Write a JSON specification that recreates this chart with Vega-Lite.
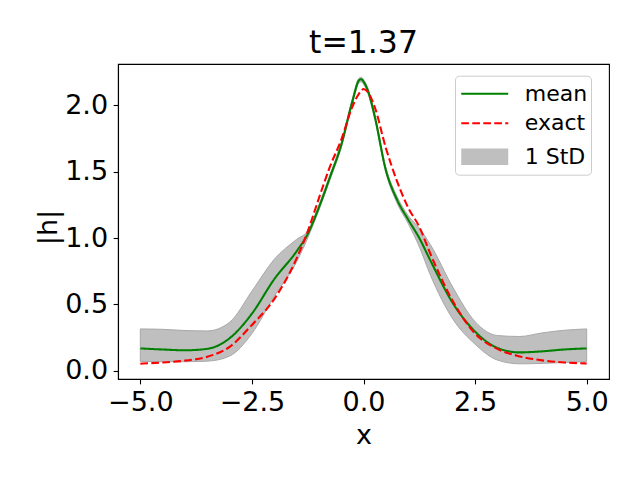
{
  "$schema": "https://vega.github.io/schema/vega-lite/v6.json",
  "width": 491,
  "height": 315,
  "autosize": {"type": "none"},
  "padding": {"left": 118, "top": 64, "right": 31, "bottom": 101},
  "background": "white",
  "title": {"text": "t=1.37", "fontSize": 31.5, "font": "DejaVu Sans", "fontWeight": "normal", "color": "black", "baseline": "alphabetic", "offset": 10.7, "dy": 31, "anchor": "middle", "frame": "group"},
  "config": {
    "view": {"stroke": "black", "strokeWidth": 1.1},
    "axis": {"domainColor": "black", "domainWidth": 1.1, "tickColor": "black", "tickSize": 4.9, "tickWidth": 1.1, "labelFont": "DejaVu Sans", "labelFontSize": 27, "labelColor": "black", "labelPadding": 5.5, "titleFont": "DejaVu Sans", "titleFontSize": 27, "titleFontWeight": "normal", "titleColor": "black", "grid": false, "labelOverlap": false, "labelFlush": false},
    "legend": {"labelFont": "DejaVu Sans", "labelFontSize": 22, "labelColor": "black"}
  },
  "data": {"values": [
    {"x": -5.0, "mean": 0.168, "lo": 0.070, "hi": 0.315, "exact": 0.053},
    {"x": -4.5, "mean": 0.160, "lo": 0.068, "hi": 0.312, "exact": 0.062},
    {"x": -4.0, "mean": 0.154, "lo": 0.068, "hi": 0.303, "exact": 0.076},
    {"x": -3.5, "mean": 0.165, "lo": 0.072, "hi": 0.300, "exact": 0.105},
    {"x": -3.0, "mean": 0.245, "lo": 0.110, "hi": 0.365, "exact": 0.180},
    {"x": -2.5, "mean": 0.430, "lo": 0.280, "hi": 0.600, "exact": 0.345},
    {"x": -2.0, "mean": 0.690, "lo": 0.560, "hi": 0.840, "exact": 0.540},
    {"x": -1.5, "mean": 0.900, "lo": 0.820, "hi": 0.990, "exact": 0.845},
    {"x": -1.25, "mean": 1.030, "lo": 1.000, "hi": 1.055, "exact": 1.050},
    {"x": -1.0, "mean": 1.230, "lo": 1.210, "hi": 1.250, "exact": 1.300},
    {"x": -0.75, "mean": 1.460, "lo": 1.440, "hi": 1.480, "exact": 1.540},
    {"x": -0.5, "mean": 1.700, "lo": 1.680, "hi": 1.720, "exact": 1.740},
    {"x": -0.25, "mean": 2.030, "lo": 2.010, "hi": 2.050, "exact": 1.990},
    {"x": -0.1, "mean": 2.190, "lo": 2.170, "hi": 2.205, "exact": 2.090},
    {"x": -0.05, "mean": 2.198, "lo": 2.178, "hi": 2.212, "exact": 2.110},
    {"x": 0.0, "mean": 2.180, "lo": 2.160, "hi": 2.195, "exact": 2.124},
    {"x": 0.1, "mean": 2.110, "lo": 2.090, "hi": 2.130, "exact": 2.100},
    {"x": 0.25, "mean": 1.920, "lo": 1.900, "hi": 1.940, "exact": 1.990},
    {"x": 0.5, "mean": 1.514, "lo": 1.494, "hi": 1.534, "exact": 1.680},
    {"x": 0.75, "mean": 1.290, "lo": 1.265, "hi": 1.315, "exact": 1.430},
    {"x": 1.0, "mean": 1.140, "lo": 1.110, "hi": 1.170, "exact": 1.230},
    {"x": 1.25, "mean": 1.000, "lo": 0.935, "hi": 1.075, "exact": 1.085},
    {"x": 1.5, "mean": 0.830, "lo": 0.720, "hi": 0.950, "exact": 0.880},
    {"x": 2.0, "mean": 0.510, "lo": 0.390, "hi": 0.630, "exact": 0.525},
    {"x": 2.5, "mean": 0.295, "lo": 0.200, "hi": 0.370, "exact": 0.280},
    {"x": 3.0, "mean": 0.172, "lo": 0.080, "hi": 0.265, "exact": 0.165},
    {"x": 3.5, "mean": 0.138, "lo": 0.052, "hi": 0.258, "exact": 0.108},
    {"x": 4.0, "mean": 0.146, "lo": 0.055, "hi": 0.285, "exact": 0.078},
    {"x": 4.5, "mean": 0.160, "lo": 0.062, "hi": 0.305, "exact": 0.062},
    {"x": 5.0, "mean": 0.168, "lo": 0.070, "hi": 0.315, "exact": 0.055}
  ]},
  "encoding": {
    "x": {"field": "x", "type": "quantitative", "scale": {"domain": [-5.5, 5.5], "nice": false, "zero": false},
      "axis": {"title": "x", "values": [-5, -2.5, 0, 2.5, 5], "format": ".1f", "titleY": 64, "titleBaseline": "alphabetic"}}
  },
  "layer": [
    {
      "mark": {"type": "area", "interpolate": "monotone", "fillOpacity": 1, "stroke": "#a8a8a8", "strokeWidth": 1},
      "encoding": {
        "y": {"field": "lo", "type": "quantitative", "scale": {"domain": [-0.0625, 2.3126], "nice": false, "zero": false},
          "axis": {"title": "|h|", "values": [0, 0.5, 1, 1.5, 2], "format": ".1f", "titleX": -62, "titleY": 163, "titleBaseline": "alphabetic"}},
        "y2": {"field": "hi"},
        "fill": {"datum": "1 StD", "type": "nominal",
          "scale": {"domain": ["mean", "exact", "1 StD"], "range": ["transparent", "transparent", "#bfbfbf"]},
          "legend": {"orient": "none", "legendX": 337, "legendY": 11.7, "title": null, "padding": 5, "rowPadding": 5.5, "fillColor": "white", "strokeColor": "#cccccc", "cornerRadius": 4, "symbolType": "M-1,-0.7H3V0.7H-1Z", "symbolSize": 552, "symbolStrokeWidth": 2.08, "symbolStrokeColor": "transparent", "symbolOpacity": 1, "labelOffset": 38.75, "labelExpr": "datum.label === '1 StD' ? datum.label : ''"}}
      }
    },
    {
      "mark": {"type": "line", "interpolate": "monotone", "strokeWidth": 2.08},
      "encoding": {
        "y": {"field": "mean", "type": "quantitative", "title": "|h|"},
        "stroke": {"datum": "mean", "type": "nominal",
          "scale": {"domain": ["mean", "exact"], "range": ["#008000", "#ff0000"]},
          "legend": {"orient": "none", "legendX": 337, "legendY": 11.7, "title": null, "padding": 5, "rowPadding": 5.5, "symbolType": "M-1,0H3", "symbolSize": 552, "symbolStrokeWidth": 2.08, "labelOffset": 38.75}},
        "strokeDash": {"datum": "mean", "type": "nominal",
          "scale": {"domain": ["mean", "exact"], "range": [[1, 0], [7.7, 3.3]]},
          "legend": {"orient": "none", "legendX": 337, "legendY": 11.7, "title": null, "padding": 5, "rowPadding": 5.5, "symbolType": "M-1,0H3", "symbolSize": 552, "symbolStrokeWidth": 2.08, "labelOffset": 38.75}}
      }
    },
    {
      "mark": {"type": "line", "interpolate": "monotone", "strokeWidth": 2.08},
      "encoding": {
        "y": {"field": "exact", "type": "quantitative", "title": "|h|"},
        "stroke": {"datum": "exact", "type": "nominal"},
        "strokeDash": {"datum": "exact", "type": "nominal"}
      }
    }
  ]
}
